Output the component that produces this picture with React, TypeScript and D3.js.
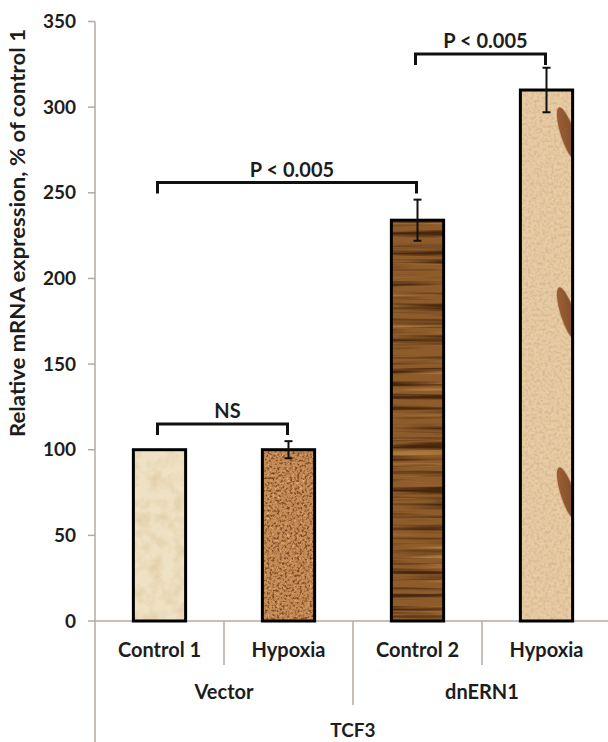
import * as d3 from "d3";

const conditions = ["Control 1", "Hypoxia", "Control 2", "Hypoxia"];
const groups = ["Vector", "Vector", "dnERN1", "dnERN1"];
const gene = "TCF3";
const values = [100, 100, 234, 310];
const errors = [0, 5, 12, 13];
const yTicks = [0, 50, 100, 150, 200, 250, 300, 350];
const yLabel = "Relative mRNA expression, % of control 1";
// brackets: [from bar, to bar, height in axis units, label]
const brackets: [number, number, number, string][] = [
  [0, 1, 115, "NS"],
  [0, 2, 256, "P < 0.005"],
  [2, 3, 331, "P < 0.005"],
];

const W = 608;
const H = 742;
const FONT = "Lato, 'Open Sans', sans-serif";
const AXIS = "#b3aaa3";
const INK = "#1d1d1d";

export default function App() {
  const idx = conditions.map((_, i) => String(i));
  const x = d3.scaleBand().domain(idx).range([95, 611]).padding(0);
  const y = d3.scaleLinear().domain([0, 350]).range([621, 21.5]);
  const bw = x.bandwidth() * 0.405;
  const cx = (i: number) => (x(String(i)) as number) + x.bandwidth() / 2;
  const bases = ["#efe1c3", "#c68c57", "#8e5c2b", "#e6cba4"];
  const filters = ["fCream", "fCork", "fWood", "fTan"];
  const groupNames = Array.from(new Set(groups));

  return (
    <div style={{ position: "absolute", left: 0, top: 0 }}>
      <svg width={W} height={H} style={{ display: "block", background: "#fff" }}>
        <defs>
          <filter id="fCream" x="0" y="0" width="1" height="1" colorInterpolationFilters="sRGB">
            <feTurbulence type="fractalNoise" baseFrequency="0.08" numOctaves={3} seed={4} result="n" />
            <feColorMatrix in="n" type="matrix" values="0 0 0 0 0.86  0 0 0 0 0.77  0 0 0 0 0.6  1.4 0 0 0 -0.55" result="d" />
            <feComposite in="d" in2="SourceGraphic" operator="in" result="dd" />
            <feMerge>
              <feMergeNode in="SourceGraphic" />
              <feMergeNode in="dd" />
            </feMerge>
          </filter>
          <filter id="fCork" x="0" y="0" width="1" height="1" colorInterpolationFilters="sRGB">
            <feTurbulence type="fractalNoise" baseFrequency="0.4" numOctaves={3} seed={2} result="n" />
            <feColorMatrix in="n" type="matrix" values="0 0 0 0 0.45  0 0 0 0 0.25  0 0 0 0 0.1  3 0 0 0 -1.4" result="d" />
            <feColorMatrix in="n" type="matrix" values="0 0 0 0 0.93  0 0 0 0 0.74  0 0 0 0 0.52  0 -3 0 0 1.25" result="l" />
            <feComposite in="d" in2="SourceGraphic" operator="in" result="dd" />
            <feComposite in="l" in2="SourceGraphic" operator="in" result="ll" />
            <feMerge>
              <feMergeNode in="SourceGraphic" />
              <feMergeNode in="ll" />
              <feMergeNode in="dd" />
            </feMerge>
          </filter>
          <filter id="fWood" x="0" y="0" width="1" height="1" colorInterpolationFilters="sRGB">
            <feTurbulence type="fractalNoise" baseFrequency="0.005 0.16" numOctaves={3} seed={7} result="n" />
            <feColorMatrix in="n" type="matrix" values="0 0 0 0 0.28  0 0 0 0 0.15  0 0 0 0 0.05  4 0 0 0 -1.9" result="d" />
            <feColorMatrix in="n" type="matrix" values="0 0 0 0 0.74  0 0 0 0 0.55  0 0 0 0 0.3  0 -3.5 0 0 1.45" result="l" />
            <feComposite in="d" in2="SourceGraphic" operator="in" result="dd" />
            <feComposite in="l" in2="SourceGraphic" operator="in" result="ll" />
            <feMerge>
              <feMergeNode in="SourceGraphic" />
              <feMergeNode in="ll" />
              <feMergeNode in="dd" />
            </feMerge>
          </filter>
          <filter id="fTan" x="0" y="0" width="1" height="1" colorInterpolationFilters="sRGB">
            <feTurbulence type="fractalNoise" baseFrequency="0.35" numOctaves={2} seed={5} result="n" />
            <feColorMatrix in="n" type="matrix" values="0 0 0 0 0.8  0 0 0 0 0.65  0 0 0 0 0.46  1.4 0 0 0 -0.6" result="d" />
            <feColorMatrix in="n" type="matrix" values="0 0 0 0 0.95  0 0 0 0 0.87  0 0 0 0 0.73  0 -1.4 0 0 0.6" result="l" />
            <feComposite in="d" in2="SourceGraphic" operator="in" result="dd" />
            <feComposite in="l" in2="SourceGraphic" operator="in" result="ll" />
            <feMerge>
              <feMergeNode in="SourceGraphic" />
              <feMergeNode in="ll" />
              <feMergeNode in="dd" />
            </feMerge>
          </filter>
          <linearGradient id="featherGrad" x1="0" y1="0" x2="1" y2="1">
            <stop offset="0" stopColor="#9a5a2c" />
            <stop offset="0.6" stopColor="#7d4520" />
            <stop offset="1" stopColor="#b27a48" />
          </linearGradient>
          <pattern
            id="feathers"
            patternUnits="userSpaceOnUse"
            x={cx(3) - bw / 2}
            y={y(values[3]) + 16}
            width={bw}
            height={180}
          >
            <ellipse cx={bw - 5} cy={28} rx={7} ry={28} transform={`rotate(-18 ${bw - 5} 28)`} fill="url(#featherGrad)" opacity={0.9} />
          </pattern>
        </defs>

        {/* y axis */}
        <line x1={95} x2={95} y1={y(350)} y2={H} stroke={AXIS} strokeWidth={1.5} />
        {yTicks.map((t) => (
          <g key={t}>
            <line x1={88} x2={95} y1={y(t)} y2={y(t)} stroke={AXIS} strokeWidth={1.5} />
            <text x={76} y={y(t)} dy="0.35em" textAnchor="end" fontFamily={FONT} fontWeight={700} fontSize={19} fill={INK}>
              {t}
            </text>
          </g>
        ))}
        <text
          transform={`translate(25, 233) rotate(-90)`}
          textAnchor="middle"
          fontFamily={FONT}
          fontWeight={700}
          fontSize={20}
          textLength={408}
          lengthAdjust="spacingAndGlyphs"
          fill={INK}
        >
          {yLabel}
        </text>

        {/* x axis */}
        <line x1={95} x2={W} y1={y(0)} y2={y(0)} stroke={AXIS} strokeWidth={1.5} />
        {idx.slice(1).map((k, i) => {
          const bx = x(k) as number;
          const between = groups[i] !== groups[i + 1];
          return <line key={k} x1={bx} x2={bx} y1={y(0)} y2={between ? 705 : 665} stroke={AXIS} strokeWidth={1.5} />;
        })}
        {conditions.map((c, i) => (
          <text key={i} x={cx(i)} y={657} textAnchor="middle" fontFamily={FONT} fontWeight={700} fontSize={20} fill={INK}>
            {c}
          </text>
        ))}
        {groupNames.map((g) => {
          const members = groups.map((gg, i) => (gg === g ? i : -1)).filter((i) => i >= 0);
          const mid = (cx(members[0]) + cx(members[members.length - 1])) / 2;
          return (
            <text key={g} x={mid} y={699} textAnchor="middle" fontFamily={FONT} fontWeight={700} fontSize={20} fill={INK}>
              {g}
            </text>
          );
        })}
        <text x={(95 + 611) / 2} y={737} textAnchor="middle" fontFamily={FONT} fontWeight={700} fontSize={19} fill={INK}>
          {gene}
        </text>

        {/* bars */}
        {values.map((v, i) => (
          <g key={i}>
            <rect
              x={cx(i) - bw / 2}
              y={y(v)}
              width={bw}
              height={y(0) - y(v)}
              fill={bases[i]}
              filter={`url(#${filters[i]})`}
            />
            {i === 3 && <rect x={cx(i) - bw / 2} y={y(v)} width={bw} height={y(0) - y(v)} fill="url(#feathers)" />}
            <rect
              x={cx(i) - bw / 2}
              y={y(v)}
              width={bw}
              height={y(0) - y(v)}
              fill="none"
              stroke="#000"
              strokeWidth={3}
            />
          </g>
        ))}

        {/* error bars */}
        {values.map((v, i) =>
          errors[i] > 0 ? (
            <g key={i} stroke="#111" strokeWidth={2}>
              <line x1={cx(i)} x2={cx(i)} y1={y(v + errors[i])} y2={y(v - errors[i])} />
              <line x1={cx(i) - 4} x2={cx(i) + 4} y1={y(v + errors[i])} y2={y(v + errors[i])} />
              <line x1={cx(i) - 4} x2={cx(i) + 4} y1={y(v - errors[i])} y2={y(v - errors[i])} />
            </g>
          ) : null
        )}

        {/* significance brackets */}
        {brackets.map(([a, b, h, label], i) => {
          const x1 = cx(a) - 2;
          const x2 = cx(b) - 1;
          const yy = y(h);
          const path = d3.path();
          path.moveTo(x1, yy + 11);
          path.lineTo(x1, yy);
          path.lineTo(x2, yy);
          path.lineTo(x2, yy + 11);
          return (
            <g key={i}>
              <path d={path.toString()} fill="none" stroke="#111" strokeWidth={3} />
              <text
                x={(x1 + x2) / 2 + 5}
                y={yy - 6}
                textAnchor="middle"
                fontFamily={FONT}
                fontWeight={700}
                fontSize={20}
                fill={INK}
              >
                {label}
              </text>
            </g>
          );
        })}
      </svg>
    </div>
  );
}
